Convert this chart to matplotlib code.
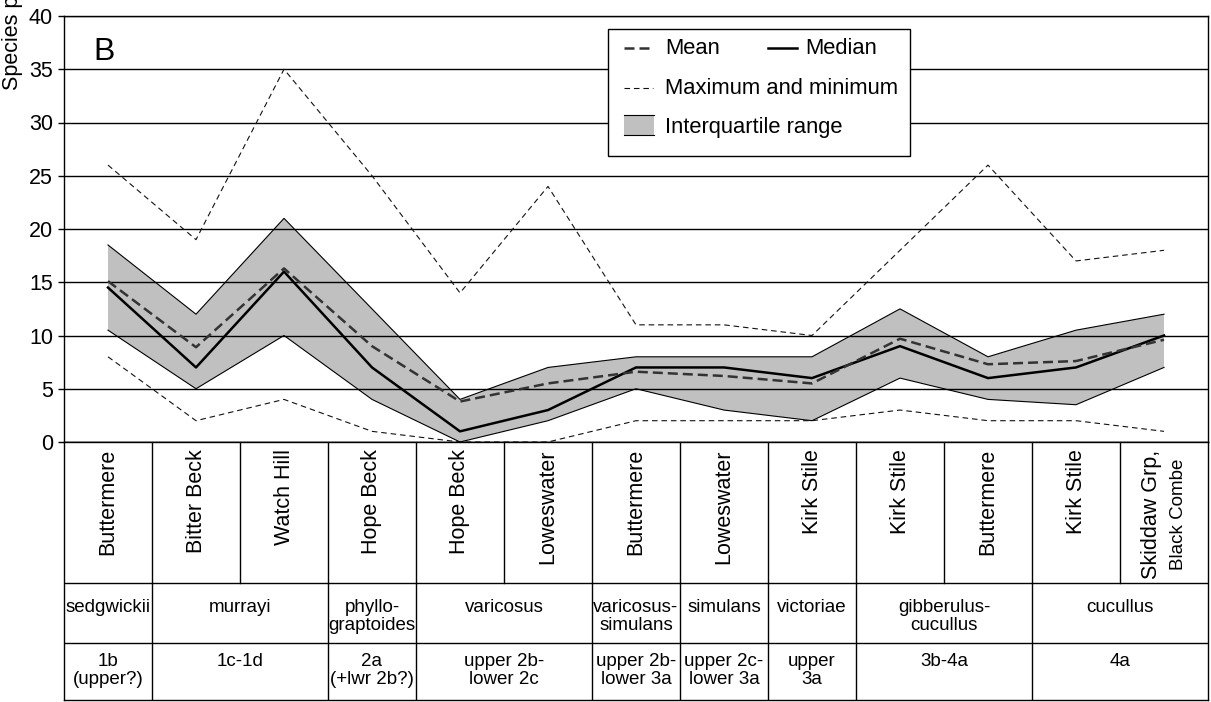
import matplotlib.pyplot as plt
from matplotlib.patches import Rectangle
from matplotlib.lines import Line2D
import numpy as np

plt.rcParams['font.family'] = ['Liberation Sans', 'DejaVu Sans']

W, H = 1211, 702

# localities (one column each), oldest on the left
localities = ["Buttermere", "Bitter Beck", "Watch Hill", "Hope Beck", "Hope Beck",
              "Loweswater", "Buttermere", "Loweswater", "Kirk Stile", "Kirk Stile",
              "Buttermere", "Kirk Stile", "Skiddaw Grp,"]
last_sub = "Black Combe"

# species counts per sample
max_count = [26, 19, 35, 25, 14, 24, 11, 11, 10, 18, 26, 17, 18]
q3 = [18.5, 12, 21, 12.5, 4, 7, 8, 8, 8, 12.5, 8, 10.5, 12]
mean = [15.1, 8.9, 16.3, 9.0, 3.8, 5.5, 6.6, 6.2, 5.5, 9.7, 7.3, 7.6, 9.6]
median = [14.5, 7, 16, 7, 1, 3, 7, 7, 6, 9, 6, 7, 10]
q1 = [10.5, 5, 10, 4, 0, 2, 5, 3, 2, 6, 4, 3.5, 7]
min_count = [8, 2, 4, 1, 0, 0, 2, 2, 2, 3, 2, 2, 1]

# graptolite zones and the biozone numbers, with how many columns each covers
zones = ["sedgwickii", "murrayi", "phyllo-\ngraptoides", "varicosus", "varicosus-\nsimulans",
         "simulans", "victoriae", "gibberulus-\ncucullus", "cucullus"]
biozones = ["1b\n(upper?)", "1c-1d", "2a\n(+lwr 2b?)", "upper 2b-\nlower 2c", "upper 2b-\nlower 3a",
            "upper 2c-\nlower 3a", "upper\n3a", "3b-4a", "4a"]
zone_span = [1, 2, 1, 2, 1, 1, 1, 2, 2]


def fx(p):
    return p / W


def fy(p):
    return 1 - p / H


fig = plt.figure(figsize=(W / 100, H / 100), dpi=100)
ax = fig.add_axes([fx(64), fy(442), (1208 - 64) / W, 426 / H])

x = np.arange(len(localities)) + 0.5
ax.fill_between(x, q1, q3, facecolor='#c0c0c0', edgecolor='none', zorder=2)
ax.plot(x, q3, color='k', lw=0.8, zorder=3)
ax.plot(x, q1, color='k', lw=0.8, zorder=3)
ax.plot(x, max_count, color='#111111', lw=0.8, dashes=(5, 3.5), zorder=3)
ax.plot(x, min_count, color='#111111', lw=0.8, dashes=(5, 3.5), zorder=3)
ax.plot(x, median, color='k', lw=1.8, zorder=4)
ax.plot(x, mean, color='#333333', lw=1.8, dashes=(4, 2), zorder=5)

ax.set_xlim(0, len(localities))
ax.set_ylim(0, 40)
ax.set_yticks(range(0, 45, 5))
ax.set_xticks([])
ax.set_axisbelow(False)
ax.grid(axis='y', color='k', lw=1)
ax.tick_params(axis='y', labelsize=15.5, length=4, width=1, pad=4)
for s in ax.spines.values():
    s.set_linewidth(1)

fig.text(fx(18), fy(90), "Species per sample", rotation=90, rotation_mode='anchor',
         ha='left', va='baseline', fontsize=15.5)
fig.text(fx(93), fy(60), "B", fontsize=23, va='baseline')

# legend box
fig.add_artist(Rectangle((fx(608), fy(156)), (910 - 608) / W, 127 / H, transform=fig.transFigure,
                         facecolor='white', edgecolor='k', lw=1, zorder=10))
fig.add_artist(Line2D([fx(624), fx(653)], [fy(48)] * 2, transform=fig.transFigure,
                      color='#333333', lw=1.8, dashes=(4, 2), zorder=11))
fig.add_artist(Line2D([fx(768), fx(797)], [fy(48)] * 2, transform=fig.transFigure,
                      color='k', lw=1.8, zorder=11))
fig.add_artist(Line2D([fx(624), fx(653)], [fy(88)] * 2, transform=fig.transFigure,
                      color='#111111', lw=0.8, dashes=(5, 3.5), zorder=11))
fig.add_artist(Rectangle((fx(624), fy(135)), 30 / W, 20 / H, transform=fig.transFigure,
                         facecolor='#c0c0c0', edgecolor='none', zorder=11))
for yy in (115, 135):
    fig.add_artist(Line2D([fx(624), fx(654)], [fy(yy)] * 2, transform=fig.transFigure,
                          color='k', lw=0.8, zorder=12))
for tx, ty, s in [(665, 48, "Mean"), (805, 48, "Median"),
                  (665, 88, "Maximum and minimum"), (665, 127, "Interquartile range")]:
    fig.text(fx(tx), fy(ty), s, va='center', fontsize=15.8, zorder=12)

# table underneath: localities, zones, biozones
tab = fig.add_axes([fx(64), fy(700), (1208 - 64) / W, 258 / H])
tab.set_xlim(0, len(localities))
tab.set_ylim(258, 0)
tab.set_xticks([])
tab.set_yticks([])
for s in tab.spines.values():
    s.set_linewidth(1)

for b in range(1, len(localities)):
    tab.plot([b, b], [0, 141], color='k', lw=1)
edges = np.cumsum(zone_span)
for b in edges[:-1]:
    tab.plot([b, b], [141, 258], color='k', lw=1)
tab.axhline(141, color='k', lw=1)
tab.axhline(201, color='k', lw=1)

for i, name in enumerate(localities[:-1]):
    tab.text(i + 0.5, 7, name, rotation=90, ha='center', va='top', fontsize=15.5)
n = len(localities) - 1
tab.text(n + 0.36, 72, localities[-1], rotation=90, ha='center', va='center', fontsize=15.5)
tab.text(n + 0.66, 72, last_sub, rotation=90, ha='center', va='center', fontsize=13.5)

starts = edges - np.array(zone_span)
for st, sp, z, bz in zip(starts, zone_span, zones, biozones):
    c = st + sp / 2
    tab.text(c, 157, z, ha='center', va='top', fontsize=13.5, linespacing=1.05)
    tab.text(c, 211, bz, ha='center', va='top', fontsize=13.5, linespacing=1.05)

fig.savefig("out.png", dpi=100)
